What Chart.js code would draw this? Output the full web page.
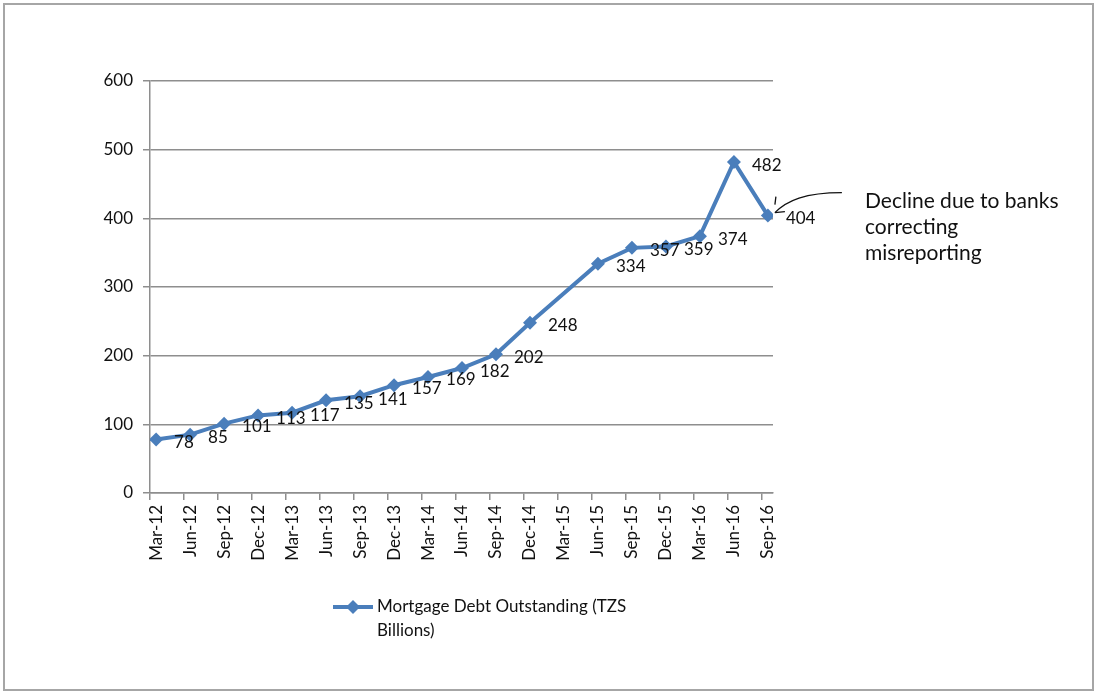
<!DOCTYPE html>
<html>
<head>
<meta charset="utf-8">
<script src="https://cdn.jsdelivr.net/npm/chart.js@4.4.1/dist/chart.umd.min.js"></script>
<style>
  html, body { margin: 0; padding: 0; background: #fff; }
  #frame { position: absolute; left: 3px; top: 3px; width: 1091px; height: 688px; border: 2px solid #a6a6a6; box-sizing: border-box; }
  #wrap { position: absolute; left: 0; top: 0; width: 1096px; height: 693px; }
</style>
</head>
<body>
<div id="frame"></div>
<div id="wrap"><canvas id="mortgageChart"></canvas></div>
<script>
// quarters on the x axis
const quarters = ['Mar-12', 'Jun-12', 'Sep-12', 'Dec-12', 'Mar-13', 'Jun-13', 'Sep-13', 'Dec-13',
  'Mar-14', 'Jun-14', 'Sep-14', 'Dec-14', 'Mar-15', 'Jun-15', 'Sep-15', 'Dec-15', 'Mar-16', 'Jun-16', 'Sep-16'];

// mortgage debt outstanding, TZS billions (no figure for Mar-15)
const debt = [78, 85, 101, 113, 117, 135, 141, 157, 169, 182, 202, 248, null, 334, 357, 359, 374, 482, 404];

const yTicks = [0, 100, 200, 300, 400, 500, 600];

const seriesName = 'Mortgage Debt Outstanding (TZS Billions)';
const legendLines = ['Mortgage Debt Outstanding (TZS', 'Billions)'];
const noteLines = ['Decline due to banks', 'correcting', 'misreporting'];

const blue = '#4a7ebb';
const gray = '#8e8e8e';
const ink = '#111';
const font = { family: 'Lato', size: 17 };

// tick marks sit a little to the left of each category
const markShift = -0.18;

// =======================
// PLUGINS
// =======================
const valueLabels = {
  id: 'valueLabels',
  afterDatasetsDraw(chart) {
    const ctx = chart.ctx;
    const meta = chart.getDatasetMeta(0);
    ctx.save();
    ctx.font = '17px Lato';
    ctx.fillStyle = ink;
    ctx.textAlign = 'left';
    ctx.textBaseline = 'middle';
    meta.data.forEach((pt, i) => {
      if (debt[i] === null) return;
      ctx.fillText(String(debt[i]), pt.x + 18, pt.y + 3);
    });
    ctx.restore();
  }
};

const note = {
  id: 'note',
  afterDraw(chart) {
    const ctx = chart.ctx;
    const meta = chart.getDatasetMeta(0);
    const last = meta.data[meta.data.length - 1];
    const tx = last.x + 7, ty = last.y - 3;

    ctx.save();
    ctx.strokeStyle = '#111';
    ctx.lineWidth = 1.3;
    ctx.beginPath();
    ctx.moveTo(tx, ty);
    ctx.bezierCurveTo(tx + 12, ty - 12, tx + 30, ty - 20, tx + 67, ty - 20);
    ctx.stroke();
    ctx.beginPath();
    ctx.moveTo(tx + 1, ty - 16);
    ctx.lineTo(tx, ty - 8);
    ctx.moveTo(tx, ty);
    ctx.lineTo(tx + 10, ty - 1);
    ctx.stroke();

    ctx.font = '21px Lato';
    ctx.fillStyle = ink;
    ctx.textAlign = 'left';
    ctx.textBaseline = 'middle';
    noteLines.forEach((line, i) => ctx.fillText(line, 865, 201 + i * 26));

    // legend, wrapped over two lines
    ctx.strokeStyle = blue;
    ctx.lineWidth = 4;
    ctx.beginPath();
    ctx.moveTo(333, 607);
    ctx.lineTo(373, 607);
    ctx.stroke();
    ctx.fillStyle = blue;
    ctx.beginPath();
    ctx.moveTo(353, 600);
    ctx.lineTo(360, 607);
    ctx.lineTo(353, 614);
    ctx.lineTo(346, 607);
    ctx.closePath();
    ctx.fill();
    ctx.font = '17px Lato';
    ctx.fillStyle = ink;
    legendLines.forEach((line, i) => ctx.fillText(line, 377, 607 + i * 24));
    ctx.restore();
  }
};

// =======================
// CHART
// =======================
const points = quarters.map((q, i) => ({ x: i, y: debt[i] }));
const xTickValues = [];
quarters.forEach((q, i) => { xTickValues.push(i + markShift, i); });

new Chart(document.getElementById('mortgageChart'), {
  type: 'line',
  data: {
    datasets: [{
      label: seriesName,
      data: points,
      borderColor: blue,
      backgroundColor: blue,
      borderWidth: 4,
      tension: 0,
      spanGaps: true,
      pointStyle: 'rectRot',
      pointRadius: 7,
      pointHoverRadius: 7,
      pointBorderWidth: 0
    }]
  },
  options: {
    responsive: true,
    maintainAspectRatio: false,
    animation: false,
    layout: { padding: { left: 0, right: 323, top: 81, bottom: 0 } },
    plugins: {
      legend: { display: false },
      tooltip: { enabled: false }
    },
    scales: {
      x: {
        type: 'linear',
        bounds: 'data',
        min: markShift,
        max: 18.15,
        afterBuildTicks: s => { s.ticks = xTickValues.map(v => ({ value: v })); },
        afterFit: s => { s.height = 200; },
        ticks: {
          autoSkip: false,
          minRotation: 90,
          maxRotation: 90,
          padding: 5,
          color: ink,
          font: font,
          callback: v => Number.isInteger(v) ? quarters[v] : ''
        },
        grid: {
          drawOnChartArea: false,
          tickLength: 7,
          lineWidth: 1.5,
          color: c => (c.tick && Number.isInteger(c.tick.value)) ? 'rgba(0,0,0,0)' : gray
        },
        border: { color: gray, width: 1.5 }
      },
      y: {
        min: 0,
        max: 600,
        afterBuildTicks: s => { s.ticks = yTicks.map(v => ({ value: v })); },
        afterFit: s => { s.width = 150; },
        ticks: { padding: 10, color: ink, font: font },
        grid: { color: gray, lineWidth: 1.5, tickLength: 7 },
        border: { color: gray, width: 1.5 }
      }
    }
  },
  plugins: [valueLabels, note]
});
</script>
</body>
</html>
